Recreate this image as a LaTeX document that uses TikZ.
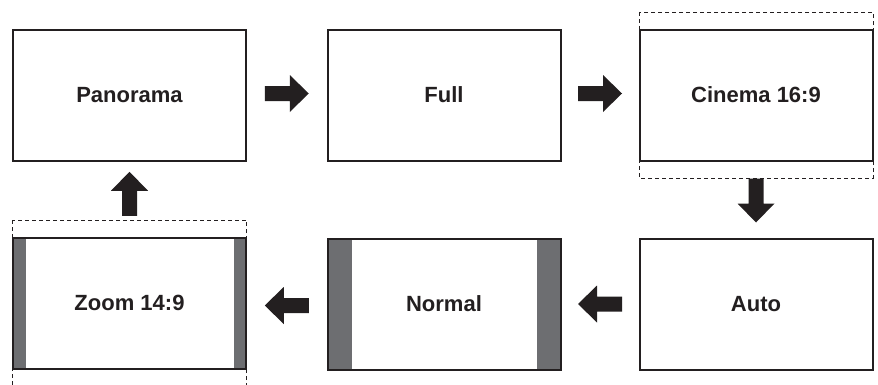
\documentclass[tikz,border=0pt]{standalone}
\usepackage{fontspec}
\setmainfont{Liberation Sans}
\usetikzlibrary{calc}
\definecolor{ink}{HTML}{231F20}
\definecolor{bar}{HTML}{6D6E71}
\tikzset{
  screen/.style={draw=ink, line width=2pt, fill=white, minimum width=233pt, minimum height=131pt,
    inner sep=0pt, text=ink, font=\fontsize{22}{26}\selectfont\bfseries},
  pillar/.style={path picture={
    \fill[bar] (path picture bounding box.north west) rectangle ++(#1,-140);
    \fill[bar] (path picture bounding box.north east) rectangle ++(-#1,-140);}},
  overscan/.style={draw=ink, line width=0.9pt, dash pattern=on 4pt off 3pt},
  blockarrow/.pic={\fill[ink] (-22,-7.5) -- (3,-7.5) -- (3,-18.5) -- (22,0) -- (3,18.5) -- (3,7.5) -- (-22,7.5) -- cycle;}
}
\begin{document}
\begin{tikzpicture}[x=1pt,y=1pt]
\clip (0,0) rectangle (878,384);
\useasboundingbox (0,0) rectangle (878,384);
% top row
\node[screen] (pan) at (129.5,289) {Panorama};
\node[screen] (full) at (444,289) {Full};
\node[screen] (cin) at (756,289) {Cinema 16:9};
% bottom row
\node[screen] (auto) at (756,80) {Auto};
\node[screen, pillar=24] (norm) at (444,80) {Normal};
\node[screen, pillar=12.5] (zoom) at (129.5,81) {Zoom 14:9};
% overscan frames
\coordinate (cinA) at ($(cin.north west)+(0.5,16.5)$);
\coordinate (cinB) at ($(cin.south east)+(-0.5,-16.5)$);
\draw[overscan] (cinA) rectangle (cinB);
\coordinate (zoomA) at ($(zoom.north west)+(0.5,16.5)$);
\coordinate (zoomB) at ($(zoom.south east)+(-0.5,-16.5)$);
\draw[overscan] (zoomA) rectangle (zoomB);
% block arrows
\pic at ($($(pan.east)!0.5!(full.west)$)+(0,1.5)$) {blockarrow};
\pic at ($($(full.east)!0.5!(cin.west)$)+(0,1.5)$) {blockarrow};
\pic[rotate=-90] at ($(cinB-|cin.south)+(0,-22.5)$) {blockarrow};
\pic[rotate=180] at ($(auto.west)!0.5!(norm.east)$) {blockarrow};
\pic[rotate=180] at ($($(norm.west)!0.5!(zoom.east)$)+(0,-2)$) {blockarrow};
\pic[rotate=90] at ($($(pan.south)!0.5!(zoomA-|zoom.north)$)+(0,-3)$) {blockarrow};
\end{tikzpicture}
\end{document}
